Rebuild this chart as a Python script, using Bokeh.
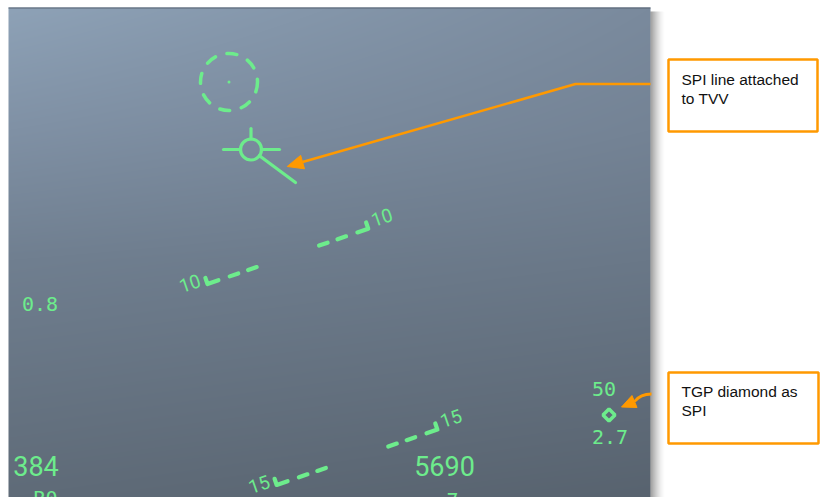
import numpy as np
from bokeh.plotting import figure
from bokeh.models import Range1d
from bokeh.core.properties import value
from bokeh.embed import file_html
from bokeh.resources import INLINE

# ---------------- HUD readouts ----------------
g_load = "0.8"
airspeed = "384"
altitude = "5690"
tgp_top = "50"
tgp_range = "2.7"
bottom_left = "R0"
bottom_mid = "7"

# pitch ladder (negative pitch, dashed rungs)
ladder_pitch = [-10, -15]
ladder_labels = ["10", "15"]
hud_roll_deg = 19.0
horizon_cx, horizon_cy = 149.0, -146.0     # screen px of pitch-0 centre
px_per_deg = 42.5

# rung shape in local units (along, up)
rung_dashes = [[33.0, 42.0], [52.5, 61.5]]
rung_corner = [73.5, 85.0, 6.5]            # dash start, corner, tick height
label_offset = [101.5, 6.0]

# TVV + SPI line
tvv_x, tvv_y, tvv_r = 250.5, 149.0, 10.5
tvv_wing = [223.0, 279.0]
tvv_tail_top = 128.0
spi_end = [295.0, 182.0]

# dashed circle
circ_x, circ_y, circ_r = 228.5, 81.5, 28.5

# TGP diamond
tgp_x, tgp_y = 608.5, 414.5

# callouts
box_left = [668, 668]
box_right = [817, 818]
box_top = [59, 372]
box_bottom = [131, 443]
box_lines = [["SPI line attached", "to TVV"], ["TGP diamond as", "SPI"]]
box_text_x = 681
box_mid = [[79, 98], [390.5, 410]]

hud_left, hud_right, hud_top, hud_bottom = 8, 650, 7, 497

GREEN = "#6DEC8C"
ORANGE = "#FF9900"


def Y(v):
    return -np.asarray(v, dtype=float)


p = figure(width=820, height=497, x_range=Range1d(0, 820), y_range=Range1d(-497, 0),
           x_axis_type=None, y_axis_type=None, toolbar_location=None,
           output_backend="svg", min_border=0, outline_line_color=None,
           background_fill_color="white", border_fill_color="white")
p.grid.grid_line_color = None

# ---------------- background gradient ----------------
W = hud_right - hud_left
H = hud_bottom - hud_top
sy = hud_bottom - (np.arange(H) + 0.5)
stops_y = [8, 130, 260, 497]
left_c = np.array([[142, 162, 183], [128, 145, 165], [112, 127, 144], [95, 107, 120]], float)
right_c = np.array([[122, 138, 157], [116, 131, 149], [106, 120, 136], [88, 99, 111]], float)
fx = (np.arange(W) + 0.5) / W
img = np.empty((H, W), dtype=np.uint32)
view = img.view(dtype=np.uint8).reshape((H, W, 4))
for ch in range(3):
    lc = np.interp(sy, stops_y, left_c[:, ch])
    rc = np.interp(sy, stops_y, right_c[:, ch])
    view[:, :, ch] = np.clip(lc[:, None] * (1 - fx[None, :]) + rc[:, None] * fx[None, :], 0, 255).astype(np.uint8)
view[:, :, 3] = 255
p.image_rgba(image=[img], x=hud_left, y=-hud_bottom, dw=W, dh=H)

# top edge
p.segment(x0=[hud_left], y0=Y([hud_top + 0.5]), x1=[hud_right], y1=Y([hud_top + 0.5]),
          line_color="#566372", line_width=1)

# right drop shadow
n_sh = 14
sh_l = [hud_right + k for k in range(n_sh)]
sh_r = [hud_right + k + 1 for k in range(n_sh)]
sh_a = [0.55 * (1 - k / n_sh) ** 1.6 for k in range(n_sh)]
p.quad(left=sh_l, right=sh_r, top=[-11] * n_sh, bottom=[-497] * n_sh,
       fill_color="#3a3a3a", fill_alpha=sh_a, line_color=None)

# ---------------- pitch ladder ----------------
th = np.radians(hud_roll_deg)
u = np.array([np.cos(th), np.sin(th)])
n_up = np.array([-np.sin(th), np.cos(th)])
hx, hy = horizon_cx, -horizon_cy

lad_xs, lad_ys = [], []
lab_x, lab_y = [], []
for pitch in ladder_pitch:
    c = np.array([hx, hy]) + pitch * px_per_deg * n_up

    def pt(a, b):
        q = c + a * u + b * n_up
        return q[0], q[1]

    for s in (1, -1):
        for a0, a1 in rung_dashes:
            p0, p1 = pt(s * a0, 0), pt(s * a1, 0)
            lad_xs.append([p0[0], p1[0]])
            lad_ys.append([p0[1], p1[1]])
        d0, cc, tk = rung_corner
        q0, q1, q2 = pt(s * d0, 0), pt(s * cc, 0), pt(s * cc, tk)
        lad_xs.append([q0[0], q1[0], q2[0]])
        lad_ys.append([q0[1], q1[1], q2[1]])
        lq = pt(s * label_offset[0], label_offset[1])
        lab_x.append(lq[0])
        lab_y.append(lq[1])

p.multi_line(xs=lad_xs, ys=lad_ys, line_color=GREEN, line_width=4.2,
             line_cap="round", line_join="round")
lab_text = []
for lab in ladder_labels:
    lab_text += [lab, lab]
p.text(x=lab_x, y=lab_y, text=lab_text, angle=th, text_color=GREEN,
       text_font=value("Roboto"), text_font_size="19px",
       text_align="center", text_baseline="middle")

# ---------------- dashed circle ----------------
p.circle(x=[circ_x], y=Y([circ_y]), radius=circ_r, fill_color=None,
         line_color=GREEN, line_width=3.5, line_dash="10 12", line_cap="round")
p.circle(x=[circ_x], y=Y([circ_y]), radius=1.5, fill_color=GREEN, line_color=None)

# ---------------- TVV ----------------
p.circle(x=[tvv_x], y=Y([tvv_y]), radius=tvv_r, fill_color=None,
         line_color=GREEN, line_width=3.2)
dirv = np.array([spi_end[0] - tvv_x, spi_end[1] - tvv_y])
dirv = dirv / np.hypot(*dirv)
spi_start = [tvv_x + dirv[0] * tvv_r, tvv_y + dirv[1] * tvv_r]
tvv_xs = [[tvv_wing[0], tvv_x - tvv_r], [tvv_x + tvv_r, tvv_wing[1]],
          [tvv_x, tvv_x], [spi_start[0], spi_end[0]]]
tvv_ys = [list(Y([tvv_y, tvv_y])), list(Y([tvv_y, tvv_y])),
          list(Y([tvv_tail_top, tvv_y - tvv_r])), list(Y([spi_start[1], spi_end[1]]))]
p.multi_line(xs=tvv_xs, ys=tvv_ys, line_color=GREEN, line_width=3.2, line_cap="round")

# ---------------- TGP diamond ----------------
p.scatter(x=[tgp_x], y=Y([tgp_y]), marker="square", size=8.5, angle=np.pi / 4,
          fill_color=None, line_color=GREEN, line_width=3.5)

# ---------------- HUD numbers ----------------
p.text(x=[39.5, 603.5, 609.5],
       y=Y([303.5, 388.5, 436.5]),
       text=[g_load, tgp_top, tgp_range],
       text_color=GREEN, text_font=value("DejaVu Sans Mono"), text_font_size="20px",
       text_align="center", text_baseline="middle")
# readouts that run off the bottom of the HUD image
p.text(x=[45, 452], y=Y([497.5, 499.5]), text=[bottom_left, bottom_mid],
       text_color=GREEN, text_font=value("DejaVu Sans Mono"), text_font_size="20px",
       text_align="center", text_baseline="middle")
p.text(x=[35.5, 444], y=Y([465.5, 465.0]), text=[airspeed, altitude],
       text_color=GREEN, text_font=value("Roboto"), text_font_size="27px",
       text_align="center", text_baseline="middle")

# ---------------- callout arrows ----------------
a1_pts_x = [650.0, 575.0]
a1_pts_y = [83.5, 83.5]
tip1 = np.array([286.7, 166.0])
v1 = np.array([a1_pts_x[1], a1_pts_y[1]]) - tip1
v1 = v1 / np.hypot(*v1)
pr1 = np.array([-v1[1], v1[0]])
base1 = tip1 + 16 * v1
p.line(x=a1_pts_x + [base1[0]], y=Y(a1_pts_y + [base1[1]]), line_color=ORANGE, line_width=2.6)
h1 = [tip1, base1 + 7 * pr1, base1 - 7 * pr1]
p.patch(x=[q[0] for q in h1], y=Y([q[1] for q in h1]), fill_color=ORANGE, line_color=ORANGE, line_width=1)

tip2 = np.array([621.0, 406.5])
base2 = np.array([634.0, 401.0])
p.quadratic(x0=[651.0], y0=Y([393.5]), x1=[base2[0]], y1=Y([base2[1]]),
            cx=[640.0], cy=Y([393.5]), line_color=ORANGE, line_width=2.8)
v2 = (base2 - tip2) / np.hypot(*(base2 - tip2))
pr2 = np.array([-v2[1], v2[0]])
h2 = [tip2, base2 + 6.5 * pr2, base2 - 6.5 * pr2]
p.patch(x=[q[0] for q in h2], y=Y([q[1] for q in h2]), fill_color=ORANGE, line_color=ORANGE, line_width=1)

# ---------------- callout boxes ----------------
p.quad(left=box_left, right=box_right, top=Y(box_top), bottom=Y(box_bottom),
       fill_color="white", line_color=ORANGE, line_width=2.5)
tx, ty, tt = [], [], []
for lines, mids in zip(box_lines, box_mid):
    for t, m in zip(lines, mids):
        tx.append(box_text_x)
        ty.append(-m)
        tt.append(t)
p.text(x=tx, y=ty, text=tt, text_color="#111111", text_font=value("Liberation Sans"),
       text_font_size="15.5px", text_align="left", text_baseline="middle")

open("out.html", "w").write(file_html(p, INLINE))
